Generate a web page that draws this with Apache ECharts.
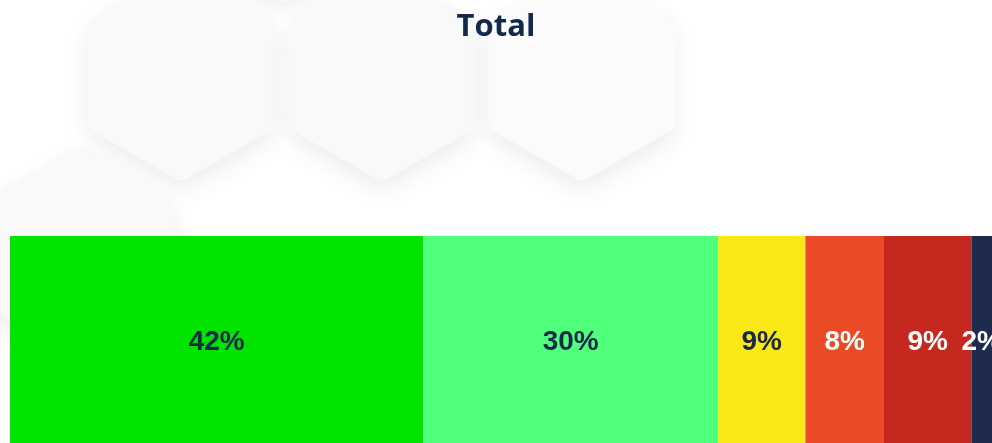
<!DOCTYPE html>
<html>
<head>
<meta charset="utf-8">
<script src="https://cdn.jsdelivr.net/npm/echarts@6/dist/echarts.min.js"></script>
<style>
  html, body { margin: 0; padding: 0; background: #fff; }
  #chart { width: 992px; height: 443px; }
</style>
</head>
<body>
<div id="chart"></div>
<script>
// segment names, shares (%) and colours
const segments = ["s1", "s2", "s3", "s4", "s5", "s6"];
const shares = [42.1, 30.0, 8.9, 8.0, 8.9, 2.1];
const segColors = ["#00e400", "#50ff7a", "#f9e816", "#ea4a26", "#c4281f", "#1f2b4c"];
const labelColors = ["#16294a", "#16294a", "#16294a", "#ffffff", "#ffffff", "#ffffff"];

// background hexagon decorations (center x, center y, fill)
const hexes = [
  [282, -105, "#fbfbfb"],
  [181, 74, "#f9f9f9"],
  [382, 74, "#f9f9f9"],
  [582, 74, "#fbfbfb"],
  [80, 253, "#f9f9f9"],
];

// rounded pointy-top hexagon outline
function hexPoints(cx, cy, R, r) {
  const pts = [];
  for (let i = 0; i < 6; i++) {
    const a = (-90 + i * 60) * Math.PI / 180;
    // corner center pulled in so the rounding stays inside
    const d = R - r / Math.cos(Math.PI / 6);
    const ccx = cx + d * Math.cos(a), ccy = cy + d * Math.sin(a);
    for (let k = -6; k <= 6; k++) {
      const b = a + (k / 6) * (Math.PI / 6);
      pts.push([ccx + r * Math.cos(b), ccy + r * Math.sin(b)]);
    }
  }
  return pts;
}

const chart = echarts.init(document.getElementById("chart"));

const option = {
  animation: false,
  title: {
    text: "Total",
    left: "center",
    top: 7,
    textStyle: {
      fontFamily: "Open Sans",
      fontWeight: "bold",
      fontSize: 31,
      color: "#13294b",
    },
  },
  graphic: hexes.map((h) => ({
    type: "polygon",
    z: 0,
    silent: true,
    shape: { points: hexPoints(h[0], h[1], 108, 12) },
    style: {
      fill: h[2],
      shadowBlur: 24,
      shadowOffsetY: 10,
      shadowColor: "rgba(0,0,0,0.07)",
    },
  })),
  grid: { left: 10, right: 0, top: 236, height: 210 },
  xAxis: { type: "value", min: 0, max: 100, show: false },
  yAxis: { type: "category", data: ["Total"], show: false },
  series: segments.map((name, i) => ({
    name: name,
    type: "bar",
    stack: "total",
    barWidth: "100%",
    data: [shares[i]],
    itemStyle: { color: segColors[i] },
    label: {
      show: true,
      position: "inside",
      offset: [0, 3],
      formatter: (p) => Math.round(p.value) + "%",
      fontFamily: "Liberation Sans",
      fontWeight: "bold",
      fontSize: 28,
      color: labelColors[i],
    },
  })),
};

chart.setOption(option);
</script>
</body>
</html>
